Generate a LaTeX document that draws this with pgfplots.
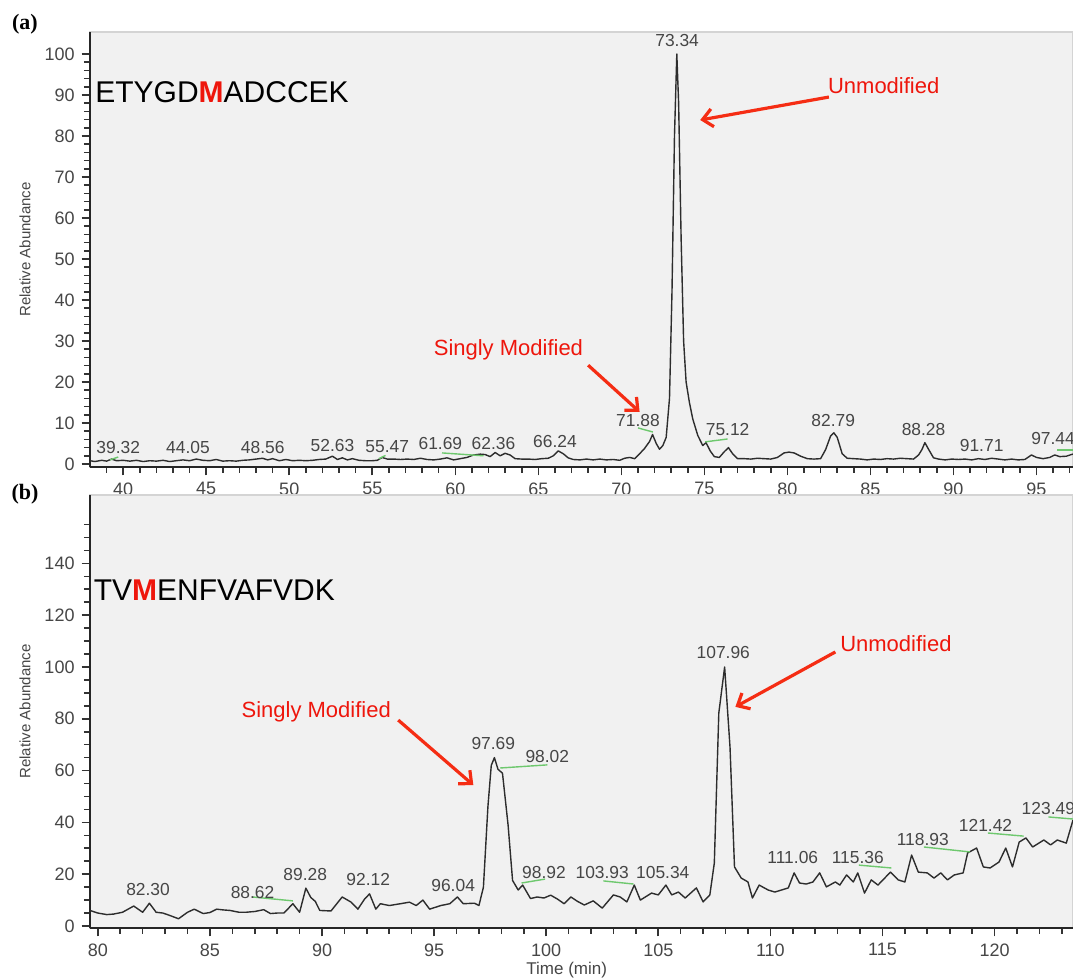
\documentclass[border=0pt]{standalone}
\usepackage{fontspec}
\setmainfont{Liberation Sans}
\newfontfamily\timesfont{Liberation Serif}
\usepackage{pgfplots}
\pgfplotsset{compat=1.18}
\usetikzlibrary{arrows.meta}
\definecolor{panel}{RGB}{241,241,241}
\definecolor{panelborder}{RGB}{212,212,212}
\definecolor{trace}{RGB}{45,45,45}
\definecolor{ticklab}{RGB}{70,70,70}
\definecolor{pkgreen}{RGB}{110,200,110}
\definecolor{annred}{RGB}{238,22,12}
\definecolor{arrred}{RGB}{245,45,20}
\tikzset{
    peak/.style={font=\fontsize{8.7}{10}\selectfont, text=ticklab, inner sep=0pt},
    grn/.style={pkgreen, line width=0.7pt},
    arr/.style={arrred, line width=1.6pt, -{Straight Barb[length=5pt,width=9pt,line width=1.6pt]}},
    redtxt/.style={text=annred, font=\fontsize{11}{13}\selectfont, inner sep=0pt},
}
\begin{document}
\begin{tikzpicture}
\useasboundingbox (0,0) rectangle (536.5pt,489.5pt);
\pgfplotsset{
  chrom/.style={
    scale only axis, anchor=south west,
    width=491.5pt,
    axis background/.style={fill=panel, draw=panelborder, line width=0.6pt},
    axis x line*=bottom, axis y line*=left,
    axis line style={-, color=black!85, line width=0.9pt},
    tick align=outside, xtick pos=bottom, ytick pos=left,
    major tick length=4.2pt, minor tick length=3pt,
    every tick/.style={black!80, line width=0.8pt},
    every minor tick/.style={black!80, line width=0.8pt},
    tick label style={font=\fontsize{9}{10}\selectfont, text=ticklab},
    /pgf/number format/assume math mode=true,
    ylabel={Relative Abundance},
    ylabel style={font=\fontsize{7.5}{9}\selectfont, text=ticklab, at={(axis description cs:-0.066,0.5)}, anchor=center},
    clip mode=individual,
  }
}
% ---------------- (a) ----------------
\begin{axis}[chrom, at={(45pt,256pt)}, height=217.5pt,
  xmin=38, xmax=97.2, ymin=-0.73, ymax=105.37,
  xtick={40,45,...,95}, minor xtick={39,...,97},
  ytick={0,10,...,100}, minor ytick={2,4,...,98}]
\addplot[trace, line width=0.7pt, line join=round] coordinates {
(38.0,0.8)(38.3,0.6)(38.7,0.9)(39.0,0.7)(39.3,1.2)(39.6,0.8)(40.0,0.9)(40.4,0.7)(40.8,0.9)(41.2,0.6)
(41.6,0.8)(42.0,0.7)(42.4,0.9)(42.8,0.6)(43.2,0.8)(43.6,1.0)(44.0,0.8)(44.4,1.2)(44.8,0.9)(45.2,0.8)
(45.6,1.1)(46.0,0.7)(46.4,0.8)(46.8,0.7)(47.2,0.9)(47.6,1.0)(48.0,1.2)(48.4,1.4)(48.7,1.0)(49.0,1.3)
(49.4,0.8)(49.8,1.1)(50.2,0.8)(50.6,0.9)(51.0,0.8)(51.4,0.9)(51.8,1.1)(52.2,1.2)(52.6,1.9)(52.9,1.1)
(53.2,1.5)(53.5,1.0)(53.8,1.3)(54.2,0.9)(54.6,0.8)(55.0,0.8)(55.3,0.9)(55.6,1.6)(55.9,1.2)(56.3,1.2)
(56.7,1.1)(57.1,1.2)(57.5,1.1)(57.9,1.4)(58.3,1.1)(58.7,1.0)(59.1,1.2)(59.5,1.5)(59.9,1.0)(60.3,1.3)
(60.7,1.6)(61.1,2.2)(61.5,2.4)(61.8,2.3)(62.1,1.8)(62.4,2.8)(62.7,2.0)(63.0,2.6)(63.3,2.2)(63.6,1.3)
(64.0,1.2)(64.4,1.2)(64.8,1.1)(65.2,1.3)(65.6,1.4)(65.9,2.0)(66.2,3.2)(66.5,2.5)(66.8,1.5)(67.1,1.1)
(67.5,1.0)(67.9,1.2)(68.3,1.0)(68.7,1.2)(69.1,1.0)(69.5,1.1)(69.9,0.9)(70.2,1.4)(70.5,1.6)(70.8,1.3)
(71.1,2.5)(71.4,3.8)(71.7,5.5)(71.88,7.2)(72.1,5.0)(72.3,3.6)(72.5,4.5)(72.7,6.5)(72.9,16)(73.05,42)
(73.2,80)(73.34,100)(73.45,88)(73.6,55)(73.75,30)(73.9,20)(74.1,15)(74.3,11)(74.6,7)(74.9,4.5)
(75.1,5.2)(75.35,3.2)(75.6,1.8)(75.9,1.6)(76.2,3.0)(76.45,4.0)(76.7,2.5)(77.0,1.3)(77.4,1.3)(77.8,1.2)
(78.2,1.4)(78.6,1.3)(79.0,1.2)(79.4,1.6)(79.8,2.7)(80.1,2.9)(80.4,2.7)(80.8,1.9)(81.2,1.3)(81.6,1.2)
(82.0,1.3)(82.3,3.5)(82.6,6.8)(82.8,7.6)(83.0,6.5)(83.3,2.5)(83.6,1.4)(84.0,1.3)(84.4,1.2)(84.8,1.0)
(85.2,1.2)(85.6,1.1)(86.0,1.3)(86.4,1.2)(86.8,1.4)(87.2,1.3)(87.6,1.2)(87.9,2.2)(88.1,3.5)(88.28,5.2)
(88.5,3.6)(88.8,1.5)(89.1,1.2)(89.5,1.0)(89.9,1.2)(90.3,1.1)(90.7,1.2)(91.1,1.0)(91.5,1.3)(91.9,1.1)
(92.3,1.4)(92.7,1.2)(93.1,1.0)(93.5,1.2)(93.9,1.0)(94.3,1.1)(94.7,2.2)(95.0,1.6)(95.4,1.3)(95.8,1.6)
(96.1,2.2)(96.4,1.8)(96.8,1.9)(97.1,2.3)(97.2,2.4)
};
% green baseline marks
\draw[grn] (axis cs:39.2,1.0) -- (axis cs:39.7,1.7);
\draw[grn] (axis cs:55.4,1.3) -- (axis cs:55.8,2.1);
\draw[grn] (axis cs:59.2,2.7) -- (axis cs:61.7,2.0);
\draw[grn] (axis cs:71.0,8.8) -- (axis cs:71.9,7.8);
\draw[grn] (axis cs:75.05,5.4) -- (axis cs:76.4,6.1);
\draw[grn] (axis cs:96.25,3.4) -- (axis cs:97.2,3.4);
% peak labels
\node[peak] at (axis cs:39.7,3.9) {39.32};
\node[peak] at (axis cs:43.9,3.9) {44.05};
\node[peak] at (axis cs:48.4,3.9) {48.56};
\node[peak] at (axis cs:52.6,4.4) {52.63};
\node[peak] at (axis cs:55.9,4.2) {55.47};
\node[peak] at (axis cs:59.1,4.9) {61.69};
\node[peak] at (axis cs:62.3,5.1) {62.36};
\node[peak] at (axis cs:66.0,5.6) {66.24};
\node[peak] at (axis cs:71.0,10.5) {71.88};
\node[peak] at (axis cs:76.4,8.3) {75.12};
\node[peak] at (axis cs:82.76,10.5) {82.79};
\node[peak] at (axis cs:88.2,8.5) {88.28};
\node[peak] at (axis cs:91.7,4.6) {91.71};
\node[peak] at (axis cs:96.0,6.1) {97.44};
\node[peak] at (axis cs:73.36,103.4) {73.34};
% annotations
\node[anchor=west, inner sep=0pt, font=\fontsize{15}{18}\selectfont] at (axis cs:38.3,90.7) {ETYGD\textcolor{annred}{\textbf{M}}ADCCEK};
\node[redtxt] at (axis cs:85.8,92.2) {Unmodified};
\draw[arr] (axis cs:82.5,89.5) -- (axis cs:74.75,83.9);
\node[redtxt] at (axis cs:63.2,27.8) {Singly Modified};
\draw[arr] (axis cs:68.0,24.1) -- (axis cs:71.1,12.7);
\end{axis}
% ---------------- (b) ----------------
\begin{axis}[chrom, at={(45pt,25.5pt)}, height=216.5pt,
  xmin=79.65, xmax=123.5, ymin=-0.77, ymax=166.4,
  xtick={80,85,...,120}, minor xtick={80,...,123},
  ytick={0,20,...,140}, minor ytick={5,10,...,155},
  xlabel={Time (min)},
  xlabel style={font=\fontsize{8.5}{10}\selectfont, text=ticklab, at={(axis description cs:0.485,-0.097)}, anchor=center}]
\addplot[trace, line width=0.7pt, line join=round] coordinates {
(79.65,6.0)(80.0,5.0)(80.4,4.4)(80.7,4.6)(81.1,5.3)(81.6,7.7)(82.0,5.3)(82.3,8.8)(82.6,5.3)(82.9,5.0)
(83.2,4.1)(83.6,2.8)(84.0,5.3)(84.3,6.5)(84.7,4.8)(85.0,5.2)(85.3,6.5)(85.6,6.2)(85.9,6.0)(86.3,5.3)
(86.6,5.3)(87.0,5.6)(87.4,6.3)(87.7,4.8)(88.0,5.0)(88.3,5.0)(88.7,8.6)(89.0,5.3)(89.28,14.6)(89.5,11.0)
(89.7,9.5)(89.9,6.0)(90.4,5.8)(90.9,11.2)(91.3,9.2)(91.6,6.5)(91.9,10.4)(92.12,12.4)(92.4,6.5)(92.6,8.6)
(93.0,7.9)(93.5,8.6)(93.9,9.2)(94.2,7.9)(94.5,10.0)(94.8,6.5)(95.3,7.9)(95.7,8.6)(96.04,11.2)(96.3,8.6)
(96.8,8.8)(97.0,7.9)(97.2,15.0)(97.4,46.0)(97.55,62.0)(97.69,65.0)(97.85,60.5)(98.05,59.0)(98.3,39.0)(98.5,17.6)
(98.75,13.9)(98.95,15.8)(99.3,10.6)(99.6,11.2)(99.9,10.8)(100.2,11.9)(100.5,10.4)(100.8,8.6)(101.1,11.2)(101.4,9.5)
(101.7,8.1)(102.1,9.7)(102.5,6.9)(103.0,12.0)(103.3,11.2)(103.6,9.3)(103.93,15.8)(104.2,10.0)(104.7,12.7)(105.0,12.0)
(105.34,15.8)(105.6,12.0)(105.9,13.1)(106.2,10.8)(106.7,14.7)(107.0,9.3)(107.3,12.0)(107.5,24.3)(107.7,82.2)(107.96,100)
(108.2,69.1)(108.4,22.8)(108.7,18.5)(109.0,17.0)(109.2,10.8)(109.5,15.8)(109.9,13.9)(110.2,13.1)(110.5,13.9)(110.8,14.7)
(111.06,20.5)(111.3,16.6)(111.6,16.2)(111.9,17.0)(112.2,20.5)(112.5,15.1)(112.9,17.0)(113.1,15.8)(113.4,19.7)(113.7,17.0)
(113.9,20.5)(114.2,12.7)(114.5,17.8)(114.8,15.8)(115.1,18.5)(115.36,20.8)(115.7,17.8)(116.0,17.0)(116.3,27.4)(116.6,20.8)
(117.0,20.5)(117.3,18.5)(117.6,20.5)(117.9,17.8)(118.2,19.7)(118.6,20.5)(118.8,28.2)(119.2,30.1)(119.5,22.8)(119.8,22.4)
(120.2,24.7)(120.5,30.1)(120.8,22.8)(121.1,32.4)(121.4,34.0)(121.7,30.5)(122.2,33.2)(122.5,31.3)(122.8,33.2)(123.2,32.0)
(123.5,40.9)
};
\draw[grn] (axis cs:86.9,11.2) -- (axis cs:88.7,9.7);
\draw[grn] (axis cs:97.95,61.0) -- (axis cs:100.05,62.2);
\draw[grn] (axis cs:98.9,16.6) -- (axis cs:99.95,18.1);
\draw[grn] (axis cs:102.55,17.4) -- (axis cs:103.9,16.2);
\draw[grn] (axis cs:113.95,23.5) -- (axis cs:115.4,22.4);
\draw[grn] (axis cs:116.85,30.5) -- (axis cs:118.9,28.6);
\draw[grn] (axis cs:119.7,35.9) -- (axis cs:121.3,34.7);
\draw[grn] (axis cs:122.4,42.1) -- (axis cs:123.5,41.3);
\node[peak] at (axis cs:82.24,13.9) {82.30};
\node[peak] at (axis cs:86.9,13.1) {88.62};
\node[peak] at (axis cs:89.25,19.7) {89.28};
\node[peak] at (axis cs:92.06,17.8) {92.12};
\node[peak] at (axis cs:95.85,15.8) {96.04};
\node[peak] at (axis cs:97.64,70.3) {97.69};
\node[peak] at (axis cs:100.05,65.3) {98.02};
\node[peak] at (axis cs:99.9,20.5) {98.92};
\node[peak] at (axis cs:102.5,20.5) {103.93};
\node[peak] at (axis cs:105.2,20.5) {105.34};
\node[peak] at (axis cs:107.9,105.4) {107.96};
\node[peak] at (axis cs:111.0,26.3) {111.06};
\node[peak] at (axis cs:113.9,26.6) {115.36};
\node[peak] at (axis cs:116.8,33.2) {118.93};
\node[peak] at (axis cs:119.6,39.0) {121.42};
\node[peak] at (axis cs:122.4,45.2) {123.49};
\node[anchor=west, inner sep=0pt, font=\fontsize{15}{18}\selectfont] at (axis cs:79.8,129.7) {TV\textcolor{annred}{\textbf{M}}ENFVAFVDK};
\node[redtxt] at (axis cs:115.6,108.9) {Unmodified};
\draw[arr] (axis cs:112.9,105.8) -- (axis cs:108.44,84.6);
\node[redtxt] at (axis cs:89.74,82.6) {Singly Modified};
\draw[arr] (axis cs:93.4,79.5) -- (axis cs:96.75,54.4);
\end{axis}
\node[font=\timesfont\bfseries\fontsize{11}{13}\selectfont] at (12.5pt,477.5pt) {(a)};
\node[font=\timesfont\bfseries\fontsize{11}{13}\selectfont] at (12.5pt,242.5pt) {(b)};
\end{tikzpicture}
\end{document}
